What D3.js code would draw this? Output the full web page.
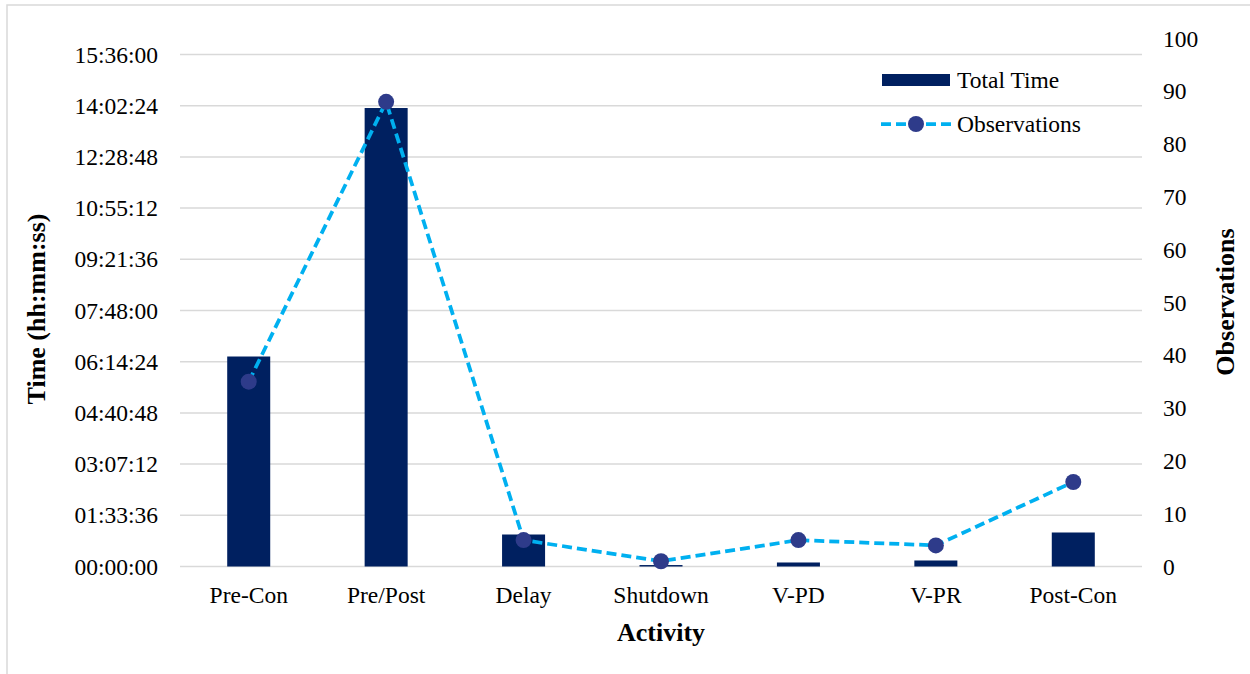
<!DOCTYPE html>
<html>
<head>
<meta charset="utf-8">
<script src="https://cdn.jsdelivr.net/npm/d3@7"></script>
<style>
  html, body { margin: 0; padding: 0; background: #fff; }
  svg { display: block; }
  text { font-family: "Liberation Serif", "Times New Roman", serif; fill: #000; }
</style>
</head>
<body>
<svg id="chart" width="1250" height="674"></svg>
<script>
// Activity categories along the x axis
const categories = ["Pre-Con", "Pre/Post", "Delay", "Shutdown", "V-PD", "V-PR", "Post-Con"];
// Total time spent per activity (hh:mm:ss)
const totalTime = ["06:23:54", "13:58:10", "00:58:30", "00:02:40", "00:07:20", "00:11:00", "01:02:10"];
// Number of observations per activity
const observations = [35, 88, 5, 1, 5, 4, 16];
// Left axis ticks (hh:mm:ss), step 01:33:36
const timeTicks = ["00:00:00", "01:33:36", "03:07:12", "04:40:48", "06:14:24", "07:48:00",
                   "09:21:36", "10:55:12", "12:28:48", "14:02:24", "15:36:00"];
// Right axis ticks
const obsTicks = [0, 10, 20, 30, 40, 50, 60, 70, 80, 90, 100];

const toSec = s => { const [h, m, x] = s.split(":").map(Number); return h * 3600 + m * 60 + x; };
const fmt = sec => {
  const h = Math.floor(sec / 3600), m = Math.floor((sec % 3600) / 60), s = Math.round(sec % 60);
  return [h, m, s].map(v => String(v).padStart(2, "0")).join(":");
};

const svg = d3.select("#chart");
const left = 180, right = 1142, bottom = 566.5;

// outer chart frame
svg.append("rect").attr("x", 7).attr("y", 5).attr("width", 1260).attr("height", 700)
  .attr("fill", "none").attr("stroke", "#d9d9d9").attr("stroke-width", 1.5);

const x = d3.scaleBand().domain(categories).range([left, right]).padding(0);
const yL = d3.scaleLinear().domain([0, toSec(timeTicks[timeTicks.length - 1])]).range([bottom, 54.5]);
const yR = d3.scaleLinear().domain([0, 100]).range([bottom, 38.5]);

const fontSize = 23.5;

// gridlines from the time axis
svg.append("g").selectAll("line").data(timeTicks.map(toSec)).join("line")
  .attr("x1", left).attr("x2", right)
  .attr("y1", d => yL(d)).attr("y2", d => yL(d))
  .attr("stroke", "#d9d9d9").attr("stroke-width", 1.5);

// left axis
const axL = svg.append("g").attr("transform", `translate(${left},0)`)
  .call(d3.axisLeft(yL).tickValues(timeTicks.map(toSec)).tickFormat(fmt).tickSize(0).tickPadding(22));
axL.select(".domain").remove();
axL.selectAll("text").style("font-size", fontSize + "px").style("font-family", "Liberation Serif").attr("fill", "#000");

// right axis
const axR = svg.append("g").attr("transform", `translate(${right},0)`)
  .call(d3.axisRight(yR).tickValues(obsTicks).tickSize(0).tickPadding(21));
axR.select(".domain").remove();
axR.selectAll("text").style("font-size", fontSize + "px").style("font-family", "Liberation Serif").attr("fill", "#000");

// bottom axis
const axB = svg.append("g").attr("transform", `translate(0,${bottom})`)
  .call(d3.axisBottom(x).tickSize(0).tickPadding(20));
axB.select(".domain").remove();
axB.selectAll("text").style("font-size", fontSize + "px").style("font-family", "Liberation Serif").attr("fill", "#000");

// bars
const barW = x.bandwidth() * 0.313;
svg.append("g").selectAll("rect").data(categories).join("rect")
  .attr("x", d => x(d) + x.bandwidth() / 2 - barW / 2)
  .attr("y", (d, i) => yL(toSec(totalTime[i])))
  .attr("width", barW)
  .attr("height", (d, i) => bottom - yL(toSec(totalTime[i])))
  .attr("fill", "#002060");

// observations line
const pts = categories.map((c, i) => [x(c) + x.bandwidth() / 2, yR(observations[i])]);
svg.append("path").attr("d", d3.line()(pts))
  .attr("fill", "none").attr("stroke", "#00B0F0").attr("stroke-width", 3.75)
  .attr("stroke-dasharray", "10,5");
svg.append("g").selectAll("circle").data(pts).join("circle")
  .attr("cx", d => d[0]).attr("cy", d => d[1]).attr("r", 8)
  .attr("fill", "#2E3B8A");

// axis titles
svg.append("text").attr("x", 661).attr("y", 641).attr("text-anchor", "middle")
  .style("font-size", "26px").style("font-weight", "bold").text("Activity");
svg.append("text").attr("transform", "translate(45,309) rotate(-90)").attr("text-anchor", "middle")
  .style("font-size", "26px").style("font-weight", "bold").text("Time (hh:mm:ss)");
svg.append("text").attr("transform", "translate(1234,302) rotate(-90)").attr("text-anchor", "middle")
  .style("font-size", "26px").style("font-weight", "bold").text("Observations");

// legend
const lg = svg.append("g");
lg.append("rect").attr("x", 882).attr("y", 74).attr("width", 68).attr("height", 12).attr("fill", "#002060");
lg.append("text").attr("x", 957).attr("y", 80).attr("dy", "0.35em").style("font-size", fontSize + "px").text("Total Time");
lg.append("line").attr("x1", 881).attr("x2", 951).attr("y1", 124).attr("y2", 124)
  .attr("stroke", "#00B0F0").attr("stroke-width", 3.75).attr("stroke-dasharray", "10,5");
lg.append("circle").attr("cx", 916).attr("cy", 124).attr("r", 8).attr("fill", "#2E3B8A");
lg.append("text").attr("x", 957).attr("y", 124).attr("dy", "0.35em").style("font-size", fontSize + "px").text("Observations");
</script>
</body>
</html>
